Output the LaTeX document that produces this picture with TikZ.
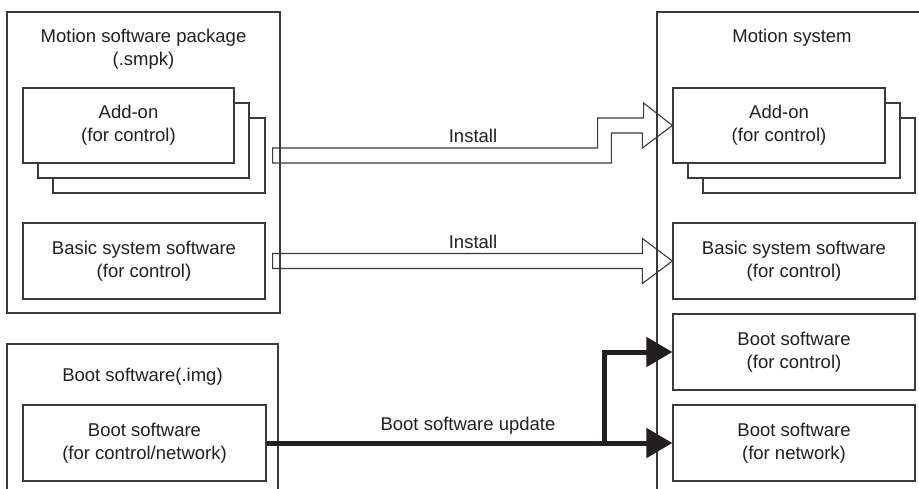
\documentclass[tikz,border=0pt]{standalone}
\usepackage{fontspec}
\setmainfont{Liberation Sans}
\usetikzlibrary{calc,arrows.meta}
\definecolor{edge}{HTML}{3A3A3A}
\definecolor{ink}{HTML}{231F20}
\tikzset{
  frame/.style={draw=edge, line width=1.2pt, rectangle, inner sep=0pt},
  box/.style={frame, fill=white, align=center, text=ink},
  ttl/.style={align=center, text=ink, inner sep=0pt},
  hollow/.style={draw=edge, line width=1.1pt, line join=miter},
  bold/.style={draw=ink, line width=5pt, line join=miter,
    -{Triangle[length=26pt,width=29pt]}},
  lbl/.style={text=ink, inner sep=0pt},
}
\begin{document}
\begin{tikzpicture}[x=1pt,y=-1pt,font=\fontsize{18.5}{23}\selectfont]
\useasboundingbox (0,0) rectangle (919,488);
\clip (0,0) rectangle (919,488);
\fill[white] (0,0) rectangle (919,488);
% outer frames
\node[frame, minimum width=273pt, minimum height=301pt] (lpkg) at (143.5,162.5) {};
\node[ttl] (lpkgt) at (143.5,49) {Motion software package\\(.smpk)};
\node[frame, minimum width=271pt, minimum height=170pt] (bpkg) at (142.5,429) {};
\node[ttl] (bpkgt) at (142.5,377) {Boot software(.img)};
\node[frame, minimum width=280pt, minimum height=500pt] (rsys) at (797,262) {};
\node[ttl] (rsyst) at (792,38) {Motion system};
% left inner boxes
\node[box, minimum width=212pt, minimum height=75pt] (addL3) at (159,155.5) {};
\node[box, minimum width=211pt, minimum height=75pt] (addL2) at (143.5,140.5) {};
\node[box, minimum width=211pt, minimum height=75pt] (addL1) at (128.5,125.5) {Add-on\\(for control)};
\node[box, minimum width=242pt, minimum height=76pt] (basicL) at (144,261) {Basic system software\\(for control)};
\node[box, minimum width=243pt, minimum height=76pt] (bootL) at (144.5,443) {Boot software\\(for control/network)};
% right inner boxes
\node[box, minimum width=212pt, minimum height=75pt] (addR3) at (809,155.5) {};
\node[box, minimum width=212pt, minimum height=75pt] (addR2) at (794,140.5) {};
\node[box, minimum width=212pt, minimum height=75pt] (addR1) at (779,125.5) {Add-on\\(for control)};
\node[box, minimum width=242pt, minimum height=76pt] (basicR) at (794,261) {Basic system software\\(for control)};
\node[box, minimum width=242pt, minimum height=76pt] (bootC) at (794,352) {Boot software\\(for control)};
\node[box, minimum width=242pt, minimum height=76pt] (bootN) at (794,443) {Boot software\\(for network)};
% hollow install arrows
\coordinate (i1s) at ($(addL3.east)+(7,0)$);
\coordinate (i1t) at (addR1.west);
\draw[hollow] ($(i1s)+(0,-7.5)$) -- ++(325,0) -- ++(0,-30) -- ++(46,0) -- ++(0,-15)
  -- (i1t) -- ++(-30,22.5) -- ++(0,-15) -- ++(-31,0) -- ++(0,30)
  -- ($(i1s)+(0,7.5)$) -- cycle;
\coordinate (i2s) at ($(basicL.east)+(7,0)$);
\coordinate (i2t) at (basicR.west);
\draw[hollow] ($(i2s)+(0,-7.5)$) -- ($(i2t)+(-30,-7.5)$) -- ++(0,-15)
  -- (i2t) -- ++(-30,22.5) -- ++(0,-15) -- ($(i2s)+(0,7.5)$) -- cycle;
\node[lbl] (lab1) at (473,136) {Install};
\node[lbl] (lab2) at (473,242) {Install};
% boot update arrows
\draw[bold] (bootL.east) -- (bootN.west);
\coordinate (br) at ($(bootL.east)!0.833!(bootN.west)$);
\draw[bold] ($(br)+(0,2.5)$) |- (bootC.west);
\node[lbl] (lab3) at (468,426) {Boot software update};
\end{tikzpicture}
\end{document}
